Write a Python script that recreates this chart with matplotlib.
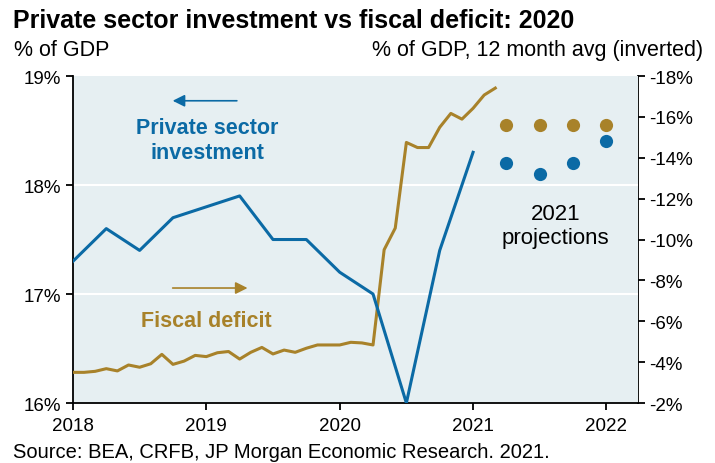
import matplotlib.pyplot as plt
import numpy as np

plt.rcParams["font.family"] = ["Liberation Sans", "DejaVu Sans"]

BLUE = "#0b6aa5"
GOLD = "#a8822a"
BG = "#e6eff2"

# Private sector investment, % of GDP (quarterly, left axis)
inv_x = [2018.0, 2018.25, 2018.5, 2018.75, 2019.0, 2019.25, 2019.5, 2019.75,
         2020.0, 2020.25, 2020.5, 2020.75, 2021.0]
inv_y = [17.3, 17.6, 17.4, 17.7, 17.8, 17.9, 17.5, 17.5,
         17.2, 17.0, 16.0, 17.4, 18.3]

# Fiscal deficit, % of GDP, 12 month avg (monthly, right axis)
def_y = [-3.50, -3.50, -3.55, -3.68, -3.57, -3.86, -3.75, -3.92, -4.38, -3.89, -4.05, -4.33,
         -4.27, -4.46, -4.52, -4.15, -4.48, -4.72, -4.40, -4.59, -4.48, -4.68, -4.84, -4.84,
         -4.84, -4.97, -4.94, -4.84, -9.50, -10.56, -14.75, -14.50, -14.50, -15.49, -16.17, -15.89,
         -16.42, -17.07, -17.41]
def_x = [2018 + i / 12 for i in range(len(def_y))]

# 2021 projections
proj_x = [2021.25, 2021.5, 2021.75, 2022.0]
proj_inv = [18.2, 18.1, 18.2, 18.4]
proj_def = [-15.6, -15.6, -15.6, -15.6]

years = [2018, 2019, 2020, 2021, 2022]

fig = plt.figure(figsize=(7.15, 4.64), dpi=100)
ax = fig.add_axes([0.102, 0.1293, 0.79, 0.7047])
ax2 = ax.twinx()

ax.set_facecolor(BG)
ax.set_zorder(ax2.get_zorder() + 1)
ax2.patch.set_visible(False)

ax.set_xlim(2018, 2022.235)
ax.set_ylim(16, 19)
ax2.set_ylim(-2, -18)

for v in [17, 18]:
    ax.axhline(v, color="white", lw=1.5, zorder=1)

# fiscal series uses the right-hand (inverted) scale
ax.plot(def_x, def_y, color=GOLD, lw=2.2, transform=ax2.transData, zorder=3)
ax.plot(inv_x, inv_y, color=BLUE, lw=2.2, zorder=4)
ax.plot(proj_x, proj_def, "o", color=GOLD, ms=9.5, mec="none",
        transform=ax2.transData, zorder=4)
ax.plot(proj_x, proj_inv, "o", color=BLUE, ms=9.5, mec="none", zorder=4)

ax.set_xticks(years)
ax.set_xticklabels([str(y) for y in years])
ax.set_yticks([16, 17, 18, 19])
ax.set_yticklabels([f"{v}%" for v in [16, 17, 18, 19]])
ax2.set_yticks(range(-2, -19, -2))
ax2.set_yticklabels([f"{v}%" for v in range(-2, -19, -2)])

for a in (ax, ax2):
    a.spines["top"].set_visible(False)
    for s in ("left", "right", "bottom"):
        a.spines[s].set_linewidth(1.3)
    a.tick_params(labelsize=13.5, length=5, width=1.3, direction="out")
ax.tick_params(axis="x", pad=5)
ax.spines["right"].set_visible(False)
ax2.spines["left"].set_visible(False)
ax2.spines["bottom"].set_visible(False)

# annotations
ax.annotate("", xy=(2018.727, 18.773), xytext=(2019.25, 18.773),
            arrowprops=dict(arrowstyle="-|>", color=BLUE, lw=1.2, mutation_scale=18))
ax.text(2019.01, 18.41, "Private sector\ninvestment", color=BLUE, fontsize=15.5,
        fontweight="bold", ha="center", va="center", linespacing=1.25)
ax.annotate("", xy=(2019.33, 17.055), xytext=(2018.727, 17.055),
            arrowprops=dict(arrowstyle="-|>", color=GOLD, lw=1.2, mutation_scale=18))
ax.text(2019.0, 16.755, "Fiscal deficit", color=GOLD, fontsize=15.5,
        fontweight="bold", ha="center", va="center")
ax.text(2021.62, 17.63, "2021\nprojections", color="black", fontsize=16,
        ha="center", va="center", linespacing=1.2)

fig.text(0.018, 0.955, "Private sector investment vs fiscal deficit: 2020",
         fontsize=18, fontweight="bold", ha="left", va="center")
fig.text(0.02, 0.892, "% of GDP", fontsize=15.5, ha="left", va="center")
fig.text(0.984, 0.892, "% of GDP, 12 month avg (inverted)", fontsize=15.5,
         ha="right", va="center")
fig.text(0.018, 0.024, "Source: BEA, CRFB, JP Morgan Economic Research. 2021.",
         fontsize=14.5, ha="left", va="center")

fig.savefig("out.png", dpi=100)
